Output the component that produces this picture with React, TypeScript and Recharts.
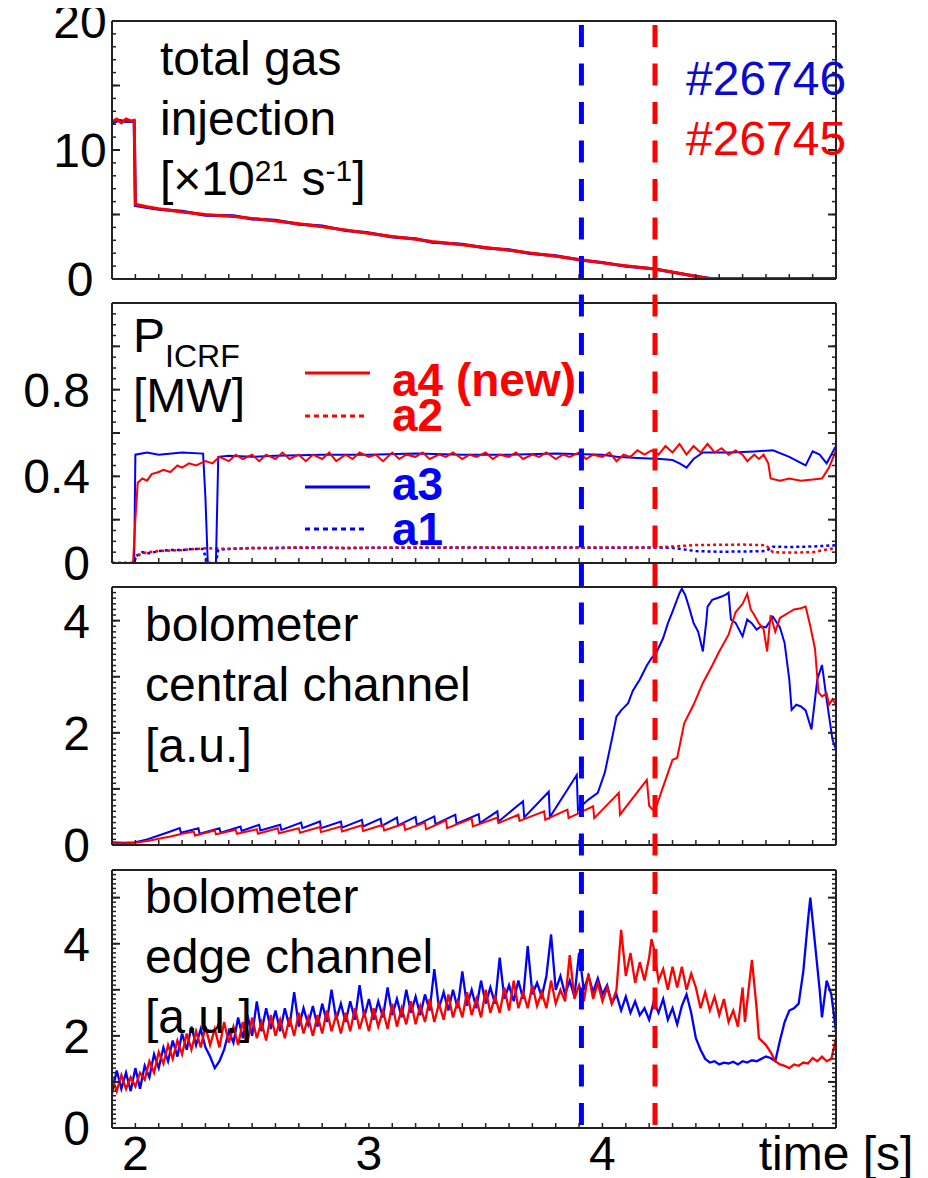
import React from 'react';
import { LineChart, Line, XAxis, YAxis, ReferenceLine } from 'recharts';

const FONT = '"Liberation Sans", Arial, Helvetica, sans-serif';
const RED = '#ff0000';
const BLUE = '#0000ff';
const TEXT_BLUE = '#0a0ad0';
const FRAME = '#222222';
const THIN = 0.01; // near-zero axis thickness so axes occupy no room

// ---------- shared time axis ----------
const X_DOMAIN: [number, number] = [1.9, 5.0];
const X_MAJOR_TICKS = [2, 2.5, 3, 3.5, 4, 4.5];
const X_LABEL_TICKS = [2, 3, 4, 5];
const X_LABEL_TEXT: Record<number, string> = { 2: '2', 3: '3', 4: '4', 5: 'time [s]' };

// discharge markers (s)
const MARK_26746 = 3.91;
const MARK_26745 = 4.225;

// ---------- panel 1: total gas injection ----------
const gasRed: [number, number][] = [
  [1.9, 12.2], [1.92, 12.4], [1.94, 12.1], [1.96, 12.4], [1.98, 12.25], [1.995, 12.3],
  [2.0, 5.8], [2.05, 5.6], [2.1, 5.45], [2.2, 5.2], [2.3, 5.0], [2.42, 4.84], [2.5, 4.7],
  [2.6, 4.5], [2.7, 4.28], [2.8, 4.05], [2.9, 3.8], [2.99, 3.56], [3.1, 3.3], [3.2, 3.08],
  [3.27, 2.91], [3.4, 2.65], [3.5, 2.45], [3.6, 2.22], [3.69, 2.01], [3.8, 1.76], [3.91, 1.49],
  [4.0, 1.25], [4.1, 1.02], [4.22, 0.77], [4.3, 0.55], [4.4, 0.2], [4.47, 0.0], [4.6, 0.02],
  [4.7, 0.0], [4.8, 0.02], [4.9, 0.0], [5.0, 0.01],
];
const gasBlue: [number, number][] = [
  [1.9, 12.1], [1.93, 12.3], [1.96, 12.2], [1.995, 12.2],
  [2.0, 5.7], [2.05, 5.55], [2.1, 5.4], [2.2, 5.25], [2.3, 4.95], [2.42, 4.9], [2.5, 4.65],
  [2.6, 4.55], [2.7, 4.25], [2.8, 4.1], [2.9, 3.75], [2.99, 3.6], [3.1, 3.25], [3.2, 3.12],
  [3.27, 2.85], [3.4, 2.7], [3.5, 2.4], [3.6, 2.26], [3.69, 1.97], [3.8, 1.8], [3.91, 1.46],
  [4.0, 1.28], [4.1, 0.98], [4.22, 0.8], [4.3, 0.52], [4.4, 0.22], [4.47, 0.02], [5.0, 0.03],
];

// ---------- panel 2: P_ICRF [MW] ----------
const a3Blue: [number, number][] = [
  [1.9, 0], [1.995, 0], [2.0, 0.5], [2.05, 0.51], [2.1, 0.5], [2.2, 0.51], [2.29, 0.505],
  [2.3, 0.3], [2.31, 0], [2.345, 0], [2.355, 0.49], [2.4, 0.495], [2.5, 0.49], [2.6, 0.495],
  [2.8, 0.5], [3.0, 0.5], [3.2, 0.505], [3.4, 0.5], [3.6, 0.5], [3.8, 0.505], [4.0, 0.5],
  [4.06, 0.49], [4.15, 0.485], [4.25, 0.48], [4.3, 0.475], [4.33, 0.46], [4.36, 0.44],
  [4.39, 0.48], [4.43, 0.51], [4.55, 0.51], [4.65, 0.515], [4.73, 0.52], [4.8, 0.49],
  [4.87, 0.45], [4.9, 0.515], [4.93, 0.5], [4.96, 0.46], [5.0, 0.54],
];
const a4Red: [number, number][] = [
  [1.9, 0], [1.99, 0], [2.0, 0.2], [2.01, 0.37], [2.03, 0.39], [2.05, 0.38], [2.07, 0.41],
  [2.1, 0.42], [2.12, 0.43], [2.15, 0.42], [2.18, 0.45], [2.2, 0.44], [2.23, 0.46], [2.26, 0.45],
  [2.3, 0.47], [2.33, 0.46], [2.36, 0.49], [2.4, 0.47], [2.43, 0.5], [2.46, 0.48], [2.5, 0.5],
  [2.53, 0.47], [2.56, 0.5], [2.6, 0.48], [2.63, 0.51], [2.66, 0.48], [2.7, 0.5], [2.73, 0.47],
  [2.76, 0.5], [2.8, 0.48], [2.83, 0.51], [2.86, 0.47], [2.9, 0.5], [2.93, 0.48], [2.96, 0.51],
  [3.0, 0.49], [3.03, 0.5], [3.06, 0.47], [3.1, 0.51], [3.13, 0.48], [3.16, 0.5], [3.2, 0.49],
  [3.23, 0.51], [3.26, 0.48], [3.3, 0.5], [3.33, 0.49], [3.36, 0.51], [3.4, 0.48], [3.43, 0.5],
  [3.46, 0.49], [3.5, 0.51], [3.53, 0.48], [3.56, 0.5], [3.6, 0.49], [3.63, 0.51], [3.66, 0.48],
  [3.7, 0.5], [3.73, 0.49], [3.76, 0.51], [3.8, 0.48], [3.83, 0.5], [3.86, 0.49], [3.9, 0.51],
  [3.93, 0.48], [3.96, 0.5], [4.0, 0.49], [4.03, 0.51], [4.06, 0.47], [4.09, 0.5], [4.12, 0.49],
  [4.15, 0.52], [4.18, 0.5], [4.21, 0.52], [4.24, 0.5], [4.27, 0.54], [4.3, 0.51], [4.33, 0.55],
  [4.36, 0.5], [4.39, 0.54], [4.42, 0.51], [4.45, 0.55], [4.48, 0.51], [4.51, 0.53], [4.54, 0.5],
  [4.57, 0.52], [4.6, 0.5], [4.62, 0.47], [4.65, 0.5], [4.67, 0.48], [4.69, 0.5], [4.71, 0.46],
  [4.72, 0.39], [4.76, 0.38], [4.8, 0.39], [4.85, 0.38], [4.9, 0.385], [4.94, 0.39], [4.97, 0.44],
  [5.0, 0.52],
];
const a1Blue: [number, number][] = [
  [1.9, 0], [1.995, 0], [2.0, 0.03], [2.03, 0.05], [2.06, 0.045], [2.1, 0.055], [2.15, 0.06],
  [2.2, 0.06], [2.25, 0.065], [2.29, 0.065], [2.3, 0.03], [2.31, 0], [2.345, 0], [2.355, 0.06],
  [2.4, 0.065], [2.5, 0.068], [2.6, 0.07], [2.7, 0.07], [2.8, 0.072], [2.9, 0.068], [3.0, 0.07],
  [3.2, 0.07], [3.4, 0.072], [3.6, 0.07], [3.8, 0.072], [4.0, 0.07], [4.2, 0.072], [4.3, 0.07],
  [4.4, 0.055], [4.5, 0.052], [4.6, 0.053], [4.7, 0.055], [4.73, 0.075], [4.8, 0.074],
  [4.9, 0.076], [5.0, 0.082],
];
const a2Red: [number, number][] = [
  [1.9, 0], [1.99, 0], [2.0, 0.02], [2.02, 0.04], [2.05, 0.05], [2.1, 0.055], [2.2, 0.06],
  [2.3, 0.068], [2.4, 0.065], [2.5, 0.07], [2.6, 0.068], [2.7, 0.072], [2.8, 0.07], [3.0, 0.07],
  [3.2, 0.072], [3.4, 0.07], [3.6, 0.072], [3.8, 0.07], [4.0, 0.072], [4.2, 0.07], [4.3, 0.076],
  [4.4, 0.083], [4.5, 0.084], [4.6, 0.085], [4.7, 0.082], [4.73, 0.05], [4.8, 0.048],
  [4.9, 0.05], [5.0, 0.07],
];

// ---------- panel 3: bolometer central channel ----------
const centralBlue: [number, number][] = [
  [1.9, 0.05], [1.95, 0.04], [2.0, 0.05], [2.05, 0.1], [2.1, 0.17], [2.15, 0.24],
  [2.19, 0.3], [2.195, 0.22], [2.27, 0.3], [2.275, 0.2], [2.36, 0.3], [2.365, 0.22],
  [2.45, 0.33], [2.455, 0.25], [2.53, 0.36], [2.535, 0.26], [2.62, 0.36], [2.625, 0.27],
  [2.71, 0.4], [2.715, 0.3], [2.79, 0.42], [2.795, 0.3], [2.88, 0.42], [2.885, 0.31],
  [2.97, 0.45], [2.975, 0.33], [3.05, 0.47], [3.055, 0.34], [3.12, 0.49], [3.125, 0.35],
  [3.2, 0.5], [3.205, 0.36], [3.28, 0.51], [3.285, 0.37], [3.37, 0.54], [3.375, 0.38],
  [3.47, 0.55], [3.475, 0.39], [3.55, 0.6], [3.555, 0.42], [3.66, 0.78], [3.665, 0.49],
  [3.77, 0.95], [3.775, 0.5], [3.89, 1.25], [3.895, 0.62], [3.9, 0.66], [3.94, 0.81],
  [3.98, 0.93], [4.01, 1.29], [4.04, 1.88], [4.06, 2.29], [4.08, 2.4], [4.11, 2.53],
  [4.13, 2.75], [4.16, 2.95], [4.19, 3.2], [4.21, 3.33], [4.23, 3.42], [4.26, 3.69],
  [4.28, 3.95], [4.3, 4.16], [4.33, 4.49], [4.34, 4.57], [4.355, 4.45], [4.37, 4.25],
  [4.39, 3.96], [4.41, 3.8], [4.42, 3.63], [4.43, 3.45], [4.445, 4.0], [4.45, 4.25],
  [4.47, 4.37], [4.49, 4.4], [4.51, 4.43], [4.53, 4.47], [4.54, 4.5], [4.55, 4.02],
  [4.57, 3.96], [4.6, 3.72], [4.62, 4.02], [4.64, 3.95], [4.66, 3.84], [4.68, 3.9],
  [4.7, 3.88], [4.73, 4.07], [4.76, 3.88], [4.78, 3.6], [4.8, 2.95], [4.81, 2.41],
  [4.83, 2.5], [4.85, 2.47], [4.87, 2.4], [4.895, 2.06], [4.92, 2.95], [4.94, 3.21],
  [4.96, 2.59], [4.985, 1.88], [5.0, 1.7],
];
const centralRed: [number, number][] = [
  [1.9, 0.03], [1.95, 0.03], [2.0, 0.04], [2.05, 0.07], [2.1, 0.11], [2.15, 0.15],
  [2.2, 0.2], [2.25, 0.24], [2.255, 0.17], [2.34, 0.26], [2.345, 0.19], [2.43, 0.27],
  [2.435, 0.2], [2.52, 0.28], [2.525, 0.2], [2.61, 0.3], [2.615, 0.21], [2.7, 0.3],
  [2.705, 0.22], [2.79, 0.32], [2.795, 0.23], [2.88, 0.33], [2.885, 0.24], [2.97, 0.35],
  [2.975, 0.25], [3.06, 0.36], [3.065, 0.26], [3.15, 0.38], [3.155, 0.27], [3.24, 0.4],
  [3.245, 0.28], [3.33, 0.44], [3.335, 0.3], [3.44, 0.47], [3.445, 0.33], [3.55, 0.49],
  [3.555, 0.39], [3.64, 0.54], [3.645, 0.43], [3.75, 0.6], [3.755, 0.45], [3.85, 0.63],
  [3.855, 0.48], [3.96, 0.69], [3.965, 0.48], [4.07, 0.93], [4.075, 0.54], [4.19, 1.16],
  [4.2, 0.7], [4.215, 0.63], [4.225, 0.62], [4.26, 1.04], [4.3, 1.52], [4.32, 1.55],
  [4.35, 2.17], [4.39, 2.5], [4.43, 2.89], [4.47, 3.2], [4.5, 3.45], [4.54, 3.75],
  [4.57, 4.15], [4.6, 4.3], [4.62, 4.48], [4.635, 4.2], [4.65, 4.1], [4.67, 3.95],
  [4.69, 3.85], [4.705, 3.45], [4.72, 4.1], [4.74, 3.8], [4.76, 4.05], [4.78, 4.1],
  [4.8, 4.15], [4.82, 4.2], [4.85, 4.22], [4.87, 4.25], [4.89, 3.9], [4.91, 3.5],
  [4.925, 2.72], [4.94, 2.65], [4.96, 2.7], [4.97, 2.5], [4.985, 2.6], [5.0, 2.5],
];

// ---------- panel 4: bolometer edge channel ----------
const edgeBlue: [number, number][] = [
  [1.9, 0.75], [1.92, 1.25], [1.94, 0.85], [1.96, 1.2], [1.98, 0.8], [2.0, 1.3], [2.02, 0.85],
  [2.04, 1.35], [2.06, 1.1], [2.08, 1.6], [2.1, 1.3], [2.12, 1.75], [2.14, 1.45], [2.16, 1.9],
  [2.18, 1.55], [2.2, 2.05], [2.22, 1.7], [2.24, 2.2], [2.26, 1.8], [2.28, 2.15], [2.3, 1.75],
  [2.32, 1.55], [2.34, 1.3], [2.36, 1.45], [2.38, 1.7], [2.4, 2.1], [2.42, 1.85], [2.44, 2.4],
  [2.46, 1.95], [2.48, 2.45], [2.5, 2.0], [2.52, 2.75], [2.54, 2.1], [2.56, 2.6], [2.58, 2.15],
  [2.6, 2.55], [2.62, 2.1], [2.64, 2.6], [2.66, 2.2], [2.68, 2.95], [2.7, 2.2], [2.72, 2.6],
  [2.74, 2.25], [2.76, 2.65], [2.78, 2.2], [2.8, 2.7], [2.82, 2.3], [2.84, 3.0], [2.86, 2.35],
  [2.88, 2.7], [2.9, 2.3], [2.92, 2.75], [2.94, 2.35], [2.96, 3.1], [2.98, 2.4], [3.0, 2.8],
  [3.02, 2.35], [3.04, 2.75], [3.06, 2.4], [3.08, 3.05], [3.1, 2.45], [3.12, 2.8], [3.14, 2.4],
  [3.16, 3.0], [3.18, 2.5], [3.2, 2.85], [3.22, 2.45], [3.24, 2.9], [3.26, 2.55], [3.28, 3.45],
  [3.3, 2.6], [3.32, 2.95], [3.34, 2.55], [3.36, 3.0], [3.38, 2.6], [3.4, 3.4], [3.42, 2.65],
  [3.44, 3.0], [3.46, 2.6], [3.48, 3.2], [3.5, 2.7], [3.52, 3.05], [3.54, 2.7], [3.56, 3.7],
  [3.58, 2.8], [3.6, 3.1], [3.62, 2.75], [3.64, 3.2], [3.66, 2.8], [3.68, 3.95], [3.7, 2.9],
  [3.72, 3.15], [3.74, 2.85], [3.76, 3.3], [3.78, 4.2], [3.8, 3.0], [3.82, 3.3], [3.84, 2.9],
  [3.86, 3.2], [3.88, 2.85], [3.9, 3.8], [3.92, 3.0], [3.94, 3.3], [3.96, 2.95], [3.98, 3.25],
  [4.0, 2.9], [4.02, 3.1], [4.04, 2.7], [4.06, 2.9], [4.08, 2.55], [4.1, 2.85], [4.12, 2.5],
  [4.14, 2.75], [4.16, 2.45], [4.18, 2.6], [4.2, 2.35], [4.22, 2.75], [4.24, 2.5], [4.26, 2.8],
  [4.28, 2.35], [4.3, 2.6], [4.32, 2.25], [4.34, 2.65], [4.36, 2.9], [4.38, 2.5], [4.4, 1.95],
  [4.42, 1.7], [4.44, 1.5], [4.46, 1.42], [4.48, 1.45], [4.5, 1.38], [4.52, 1.42], [4.54, 1.4],
  [4.56, 1.44], [4.58, 1.38], [4.6, 1.45], [4.62, 1.42], [4.64, 1.47], [4.66, 1.45], [4.68, 1.5],
  [4.7, 1.55], [4.72, 1.52], [4.74, 1.45], [4.76, 1.9], [4.78, 2.3], [4.8, 2.55], [4.82, 2.6],
  [4.84, 2.7], [4.86, 3.4], [4.88, 4.5], [4.89, 5.0], [4.91, 4.0], [4.93, 3.0], [4.94, 2.4],
  [4.96, 3.2], [4.98, 2.9], [5.0, 2.1],
];
const edgeRed: [number, number][] = [
  [1.9, 1.1], [1.92, 0.8], [1.94, 1.15], [1.96, 0.85], [1.98, 1.1], [2.0, 0.9], [2.02, 1.2],
  [2.04, 1.05], [2.06, 1.45], [2.08, 1.2], [2.1, 1.65], [2.12, 1.4], [2.14, 1.8], [2.16, 1.5],
  [2.18, 1.9], [2.2, 1.6], [2.22, 2.05], [2.24, 1.7], [2.26, 2.1], [2.28, 1.75], [2.3, 2.2],
  [2.32, 1.8], [2.34, 2.15], [2.36, 1.75], [2.38, 2.3], [2.4, 1.85], [2.42, 2.2], [2.44, 1.8],
  [2.46, 2.3], [2.48, 1.85], [2.5, 2.4], [2.52, 1.95], [2.54, 2.3], [2.56, 1.9], [2.58, 2.45],
  [2.6, 2.0], [2.62, 2.35], [2.64, 1.95], [2.66, 2.4], [2.68, 2.0], [2.7, 2.5], [2.72, 2.05],
  [2.74, 2.4], [2.76, 2.0], [2.78, 2.45], [2.8, 2.05], [2.82, 2.55], [2.84, 2.1], [2.86, 2.45],
  [2.88, 2.05], [2.9, 2.5], [2.92, 2.1], [2.94, 2.6], [2.96, 2.15], [2.98, 2.5], [3.0, 2.1],
  [3.02, 2.6], [3.04, 2.2], [3.06, 2.55], [3.08, 2.15], [3.1, 2.7], [3.12, 2.2], [3.14, 2.6],
  [3.16, 2.25], [3.18, 2.75], [3.2, 2.25], [3.22, 2.65], [3.24, 2.3], [3.26, 2.8], [3.28, 2.3],
  [3.3, 2.7], [3.32, 2.35], [3.34, 2.9], [3.36, 2.4], [3.38, 2.75], [3.4, 2.4], [3.42, 2.95],
  [3.44, 2.45], [3.46, 2.8], [3.48, 2.4], [3.5, 3.0], [3.52, 2.5], [3.54, 2.85], [3.56, 2.5],
  [3.58, 3.05], [3.6, 2.55], [3.62, 3.2], [3.64, 2.6], [3.66, 2.95], [3.68, 2.6], [3.7, 3.1],
  [3.72, 2.65], [3.74, 2.95], [3.76, 2.6], [3.78, 3.2], [3.8, 2.7], [3.82, 3.0], [3.84, 2.75],
  [3.86, 3.75], [3.88, 2.8], [3.9, 3.1], [3.92, 2.75], [3.94, 3.35], [3.96, 2.8], [3.98, 3.15],
  [4.0, 2.75], [4.02, 3.05], [4.04, 2.7], [4.06, 3.0], [4.08, 4.3], [4.1, 3.3], [4.12, 3.8],
  [4.14, 3.15], [4.16, 3.6], [4.18, 3.2], [4.2, 3.7], [4.21, 4.1], [4.22, 3.9], [4.24, 3.2],
  [4.26, 3.45], [4.28, 3.0], [4.3, 3.5], [4.32, 3.05], [4.34, 3.5], [4.36, 3.0], [4.38, 3.35],
  [4.4, 3.05], [4.42, 2.6], [4.44, 2.95], [4.46, 2.55], [4.48, 2.85], [4.5, 2.45], [4.52, 2.8],
  [4.54, 2.3], [4.56, 2.55], [4.58, 2.2], [4.6, 3.05], [4.61, 2.3], [4.63, 3.2], [4.64, 3.65],
  [4.66, 2.6], [4.67, 1.95], [4.7, 1.8], [4.72, 1.65], [4.74, 1.45], [4.76, 1.38], [4.78, 1.35],
  [4.8, 1.3], [4.82, 1.38], [4.84, 1.35], [4.86, 1.42], [4.88, 1.4], [4.9, 1.52], [4.92, 1.45],
  [4.94, 1.55], [4.96, 1.45], [4.98, 1.5], [5.0, 1.95],
];

// ---------- helpers ----------
const pts = (arr: [number, number][]) => arr.map(([t, v]) => ({ t, v }));
const range = (a: number, b: number, step: number) => {
  const out: number[] = [];
  for (let v = a; v <= b + 1e-9; v += step) out.push(Math.round(v * 1000) / 1000);
  return out;
};
const X_MINOR_TICKS = range(2.0, 4.9, 0.1);
const NoTickLabel = () => <g />;

const CHART_W = 912;
const M_LEFT = 104;
const M_RIGHT = 84;
const M_TB = 25;

type SeriesCfg = { data: [number, number][]; color: string; dashed?: boolean; width?: number };
type PanelCfg = {
  plotTop: number;
  plotBottom: number;
  yMax: number;
  yMinor: number[];
  yMajor: number[];
  yLabels: number[];
  labelAnchor: 'end' | 'middle';
  labelMargin: number;
  series: SeriesCfg[];
  showX?: boolean;
};

function Panel(cfg: PanelCfg) {
  const plotH = cfg.plotBottom - cfg.plotTop;
  const mBottom = cfg.showX ? 70 : M_TB;
  const height = plotH + M_TB + mBottom;
  const top = cfg.plotTop - 8 - M_TB;
  const yDomain: [number, number] = [0, cfg.yMax];
  const frame = { stroke: FRAME, strokeWidth: 2 };
  const minorLine = { stroke: FRAME, strokeWidth: 1.5 };
  const majorLine = { stroke: FRAME, strokeWidth: 2 };
  return (
    <div style={{ position: 'absolute', left: 0, top }}>
      <LineChart width={CHART_W} height={height} margin={{ top: M_TB, right: M_RIGHT, bottom: mBottom, left: M_LEFT }}>
        {/* x ticks: bottom & top, inward */}
        <XAxis xAxisId="xb" type="number" dataKey="t" domain={X_DOMAIN} allowDataOverflow height={THIN} mirror
          ticks={X_MINOR_TICKS} interval={0} tick={NoTickLabel} tickSize={5} axisLine={false} tickLine={minorLine} />
        <XAxis xAxisId="xbM" type="number" domain={X_DOMAIN} allowDataOverflow height={THIN} mirror
          ticks={X_MAJOR_TICKS} interval={0} tick={NoTickLabel} tickSize={8} axisLine={frame} tickLine={majorLine} />
        <XAxis xAxisId="xt" orientation="top" type="number" domain={X_DOMAIN} allowDataOverflow height={THIN} mirror
          ticks={X_MINOR_TICKS} interval={0} tick={NoTickLabel} tickSize={5} axisLine={false} tickLine={minorLine} />
        <XAxis xAxisId="xtM" orientation="top" type="number" domain={X_DOMAIN} allowDataOverflow height={THIN} mirror
          ticks={X_MAJOR_TICKS} interval={0} tick={NoTickLabel} tickSize={8} axisLine={frame} tickLine={majorLine} />
        {/* y ticks: left & right, inward */}
        <YAxis yAxisId="yl" type="number" domain={yDomain} allowDataOverflow width={THIN}
          ticks={cfg.yLabels} interval={0} tickSize={0} tickMargin={cfg.labelMargin} axisLine={frame} tickLine={false}
          tick={{ fontSize: 48, fontFamily: FONT, fill: '#000', textAnchor: cfg.labelAnchor }} />
        <YAxis yAxisId="ylm" type="number" domain={yDomain} allowDataOverflow width={THIN} mirror
          ticks={cfg.yMinor} interval={0} tick={NoTickLabel} tickSize={4} axisLine={false} tickLine={minorLine} />
        <YAxis yAxisId="ylM" type="number" domain={yDomain} allowDataOverflow width={THIN} mirror
          ticks={cfg.yMajor} interval={0} tick={NoTickLabel} tickSize={8} axisLine={false} tickLine={majorLine} />
        <YAxis yAxisId="yrm" orientation="right" type="number" domain={yDomain} allowDataOverflow width={THIN} mirror
          ticks={cfg.yMinor} interval={0} tick={NoTickLabel} tickSize={4} axisLine={false} tickLine={minorLine} />
        <YAxis yAxisId="yrM" orientation="right" type="number" domain={yDomain} allowDataOverflow width={THIN} mirror
          ticks={cfg.yMajor} interval={0} tick={NoTickLabel} tickSize={8} axisLine={frame} tickLine={majorLine} />
        {cfg.series.map((s, i) => (
          <Line key={i} data={pts(s.data)} dataKey="v" xAxisId="xb" yAxisId="yl" type="linear" dot={false}
            activeDot={false} stroke={s.color} strokeWidth={s.width ?? 2}
            strokeDasharray={s.dashed ? '3 3' : undefined} isAnimationActive={false} />
        ))}
        {/* time-axis labels placed by the x scale below the bottom frame */}
        {cfg.showX &&
          X_LABEL_TICKS.map((v) => (
            <ReferenceLine key={`lab${v}`} xAxisId="xb" yAxisId="yl" x={v} stroke="none" strokeWidth={0}
              label={{ value: X_LABEL_TEXT[v], position: 'bottom', offset: 8, fontSize: 48, fontFamily: FONT, fill: '#000' }} />
          ))}
      </LineChart>
    </div>
  );
}

const PANELS: PanelCfg[] = [
  {
    plotTop: 21, plotBottom: 279, yMax: 20,
    yMinor: range(0, 20, 1), yMajor: [0, 5, 10, 15, 20], yLabels: [0, 10, 20],
    labelAnchor: 'middle', labelMargin: 32,
    series: [{ data: gasBlue, color: BLUE, width: 3 }, { data: gasRed, color: RED, width: 3 }],
  },
  {
    plotTop: 303, plotBottom: 563, yMax: 1.2,
    yMinor: range(0, 1.2, 0.05), yMajor: range(0, 1.2, 0.2), yLabels: [0, 0.4, 0.8],
    labelAnchor: 'end', labelMargin: 22,
    series: [
      { data: a1Blue, color: BLUE, dashed: true, width: 2.5 },
      { data: a2Red, color: RED, dashed: true, width: 2.5 },
      { data: a3Blue, color: BLUE },
      { data: a4Red, color: RED },
    ],
  },
  {
    plotTop: 587, plotBottom: 845, yMax: 4.6,
    yMinor: range(0, 4.6, 0.1), yMajor: [0, 1, 2, 3, 4], yLabels: [0, 2, 4],
    labelAnchor: 'end', labelMargin: 22,
    series: [{ data: centralBlue, color: BLUE }, { data: centralRed, color: RED }],
  },
  {
    plotTop: 870, plotBottom: 1128, yMax: 5.6,
    yMinor: range(0, 5.6, 0.1), yMajor: [0, 1, 2, 3, 4, 5], yLabels: [0, 2, 4],
    labelAnchor: 'end', labelMargin: 22,
    series: [{ data: edgeBlue, color: BLUE, width: 2.3 }, { data: edgeRed, color: RED, width: 2.3 }],
    showX: true,
  },
];

function Annotations() {
  const t = { fontFamily: FONT, fontSize: 48, fill: '#000' };
  const b = { fontFamily: FONT, fontSize: 46, fontWeight: 700 as const };
  return (
    <svg width={928} height={1178} style={{ position: 'absolute', left: -8, top: -8, pointerEvents: 'none' }}>
      {/* panel 1 */}
      <text x={160} y={75} {...t}>total gas</text>
      <text x={160} y={135} {...t}>injection</text>
      <text x={160} y={195} {...t}>
        [×10<tspan fontSize={30} dy={-14}>21</tspan>
        <tspan dy={14}> s</tspan>
        <tspan fontSize={30} dy={-14}>-1</tspan>
        <tspan dy={14}>]</tspan>
      </text>
      <text x={686} y={95} fontFamily={FONT} fontSize={48} fill={TEXT_BLUE}>#26746</text>
      <text x={686} y={155} fontFamily={FONT} fontSize={48} fill={RED}>#26745</text>
      {/* panel 2 */}
      <text x={133} y={352} {...t}>P<tspan fontSize={32} dy={15}>ICRF</tspan></text>
      <text x={133} y={412} {...t}>[MW]</text>
      <line x1={305} x2={370} y1={373} y2={373} stroke={RED} strokeWidth={3} />
      <text x={392} y={396} {...b} fill={RED}>a4 (new)</text>
      <line x1={305} x2={368} y1={416} y2={416} stroke={RED} strokeWidth={3} strokeDasharray="5 4" />
      <text x={392} y={431} {...b} fill={RED}>a2</text>
      <line x1={305} x2={370} y1={487} y2={487} stroke={BLUE} strokeWidth={3} />
      <text x={392} y={500} {...b} fill={BLUE}>a3</text>
      <line x1={305} x2={368} y1={529} y2={529} stroke={BLUE} strokeWidth={3} strokeDasharray="5 4" />
      <text x={392} y={545} {...b} fill={BLUE}>a1</text>
      {/* panel 3 */}
      <text x={145} y={641} {...t}>bolometer</text>
      <text x={145} y={701} {...t}>central channel</text>
      <text x={145} y={762} {...t}>[a.u.]</text>
      {/* panel 4 */}
      <text x={145} y={913} {...t}>bolometer</text>
      <text x={145} y={973} {...t}>edge channel</text>
      <text x={145} y={1033} {...t}>[a.u.]</text>
    </svg>
  );
}

const MARKER_SPAN = [{ t: MARK_26746, v: 0 }, { t: MARK_26745, v: 1 }];

function Markers() {
  const top = 15;
  const bottom = 1125;
  return (
    <div style={{ position: 'absolute', left: 0, top: top - 8, pointerEvents: 'none' }}>
      <LineChart width={CHART_W} height={bottom - top} margin={{ top: 0, right: M_RIGHT, bottom: 0, left: M_LEFT }}
        data={MARKER_SPAN}>
        <XAxis type="number" dataKey="t" domain={X_DOMAIN} allowDataOverflow height={THIN} mirror
          tick={false} tickLine={false} axisLine={false} />
        <YAxis type="number" domain={[0, 1]} allowDataOverflow width={THIN} mirror
          tick={false} tickLine={false} axisLine={false} />
        <Line dataKey="v" stroke="none" dot={false} activeDot={false} isAnimationActive={false} />
        <ReferenceLine x={MARK_26746} stroke={BLUE} strokeWidth={5} strokeDasharray="22 16.5" />
        <ReferenceLine x={MARK_26745} stroke={RED} strokeWidth={5} strokeDasharray="22 16.5" />
      </LineChart>
    </div>
  );
}

export default function App() {
  return (
    <div style={{ position: 'relative', width: 912, height: 1170, background: '#fff' }}>
      {PANELS.map((p, i) => (
        <Panel key={i} {...p} />
      ))}
      <Annotations />
      <Markers />
    </div>
  );
}
